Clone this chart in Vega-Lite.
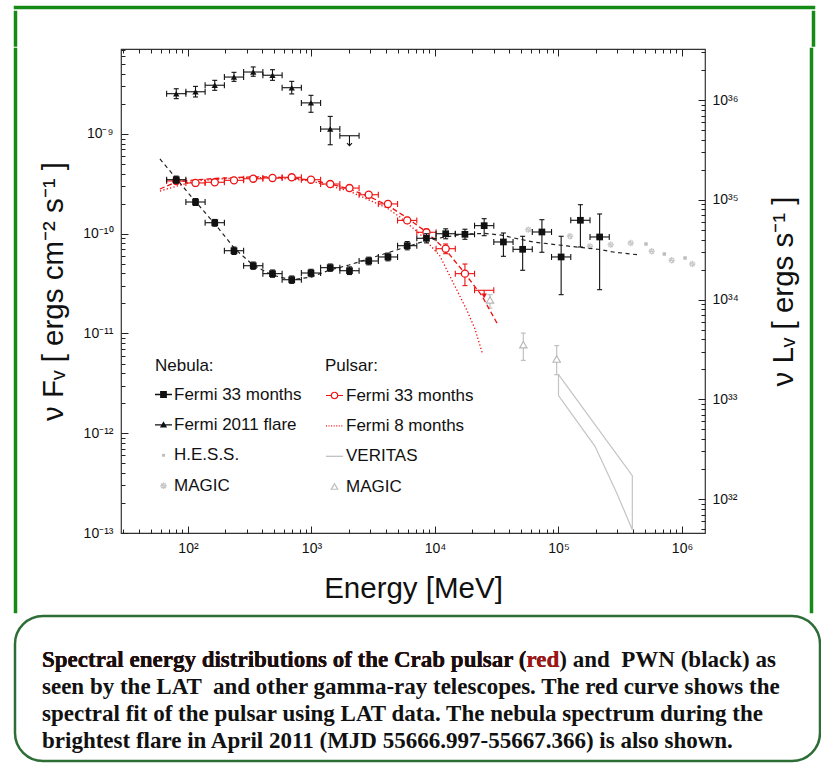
{
  "$schema": "https://vega.github.io/schema/vega-lite/v6.json",
  "padding": {"left": 13, "top": 5, "right": 0, "bottom": 0},
  "background": "white",
  "config": {"font": "Liberation Sans", "point": {"opacity": 1}, "view": {"stroke": null}},
  "datasets": {
    "neb": [
      {"E":80.4,"Elo":67.2,"Ehi":96.2,"F":3.48e-10,"Flo":3.2e-10,"Fhi":3.78e-10},
      {"E":115.1,"Elo":96.2,"Ehi":137.7,"F":2.08e-10,"Flo":1.92e-10,"Fhi":2.25e-10},
      {"E":164.8,"Elo":137.7,"Ehi":197.2,"F":1.29e-10,"Flo":1.19e-10,"Fhi":1.39e-10},
      {"E":235.9,"Elo":197.2,"Ehi":282.3,"F":6.76e-11,"Flo":6.2e-11,"Fhi":7.35e-11},
      {"E":337.8,"Elo":282.3,"Ehi":404.1,"F":4.78e-11,"Flo":4.4e-11,"Fhi":5.2e-11},
      {"E":483.5,"Elo":404.1,"Ehi":578.5,"F":3.98e-11,"Flo":3.66e-11,"Fhi":4.33e-11},
      {"E":692.2,"Elo":578.5,"Ehi":828.2,"F":3.46e-11,"Flo":3.18e-11,"Fhi":3.77e-11},
      {"E":990.8,"Elo":828.2,"Ehi":1185.6,"F":4.04e-11,"Flo":3.71e-11,"Fhi":4.4e-11},
      {"E":1418.5,"Elo":1185.6,"Ehi":1697,"F":4.57e-11,"Flo":4.2e-11,"Fhi":4.97e-11},
      {"E":2031,"Elo":1697,"Ehi":2429,"F":4.26e-11,"Flo":3.9e-11,"Fhi":4.65e-11},
      {"E":2907,"Elo":2429,"Ehi":3478,"F":5.33e-11,"Flo":4.88e-11,"Fhi":5.82e-11},
      {"E":4162,"Elo":3478,"Ehi":4978,"F":5.85e-11,"Flo":5.35e-11,"Fhi":6.4e-11},
      {"E":5957,"Elo":4978,"Ehi":7127,"F":7.59e-11,"Flo":6.9e-11,"Fhi":8.35e-11},
      {"E":8528,"Elo":7127,"Ehi":10202,"F":9.0e-11,"Flo":8.1e-11,"Fhi":1.0e-10},
      {"E":12208,"Elo":10202,"Ehi":14605,"F":1.0e-10,"Flo":8.9e-11,"Fhi":1.12e-10},
      {"E":17476,"Elo":14605,"Ehi":20909,"F":9.87e-11,"Flo":8.8e-11,"Fhi":1.11e-10},
      {"E":25018,"Elo":20909,"Ehi":29931,"F":1.205e-10,"Flo":9.56e-11,"Fhi":1.416e-10},
      {"E":35813,"Elo":29931,"Ehi":42848,"F":8.27e-11,"Flo":5.94e-11,"Fhi":1.017e-10},
      {"E":51268,"Elo":42848,"Ehi":61340,"F":6.98e-11,"Flo":4.3e-11,"Fhi":9.43e-11},
      {"E":73393,"Elo":61340,"Ehi":87814,"F":1.041e-10,"Flo":6.52e-11,"Fhi":1.383e-10},
      {"E":105050,"Elo":87814,"Ehi":125710,"F":5.85e-11,"Flo":2.45e-11,"Fhi":9.43e-11},
      {"E":150420,"Elo":125710,"Ehi":179960,"F":1.364e-10,"Flo":7.36e-11,"Fhi":1.955e-10},
      {"E":215280,"Elo":179960,"Ehi":257620,"F":9.28e-11,"Flo":2.75e-11,"Fhi":1.578e-10}
    ],
    "psr": [
      {"E":80.4,"Elo":67.2,"Ehi":96.2,"F":3.38e-10,"Flo":3.2e-10,"Fhi":3.56e-10},
      {"E":115.1,"Elo":96.2,"Ehi":137.7,"F":3.23e-10,"Flo":3.07e-10,"Fhi":3.4e-10},
      {"E":164.8,"Elo":137.7,"Ehi":197.2,"F":3.28e-10,"Flo":3.12e-10,"Fhi":3.45e-10},
      {"E":235.9,"Elo":197.2,"Ehi":282.3,"F":3.43e-10,"Flo":3.26e-10,"Fhi":3.6e-10},
      {"E":337.8,"Elo":282.3,"Ehi":404.1,"F":3.56e-10,"Flo":3.38e-10,"Fhi":3.74e-10},
      {"E":483.5,"Elo":404.1,"Ehi":578.5,"F":3.62e-10,"Flo":3.44e-10,"Fhi":3.8e-10},
      {"E":692.2,"Elo":578.5,"Ehi":828.2,"F":3.68e-10,"Flo":3.5e-10,"Fhi":3.87e-10},
      {"E":990.8,"Elo":828.2,"Ehi":1185.6,"F":3.48e-10,"Flo":3.3e-10,"Fhi":3.66e-10},
      {"E":1418.5,"Elo":1185.6,"Ehi":1697,"F":3.15e-10,"Flo":2.98e-10,"Fhi":3.32e-10},
      {"E":2031,"Elo":1697,"Ehi":2429,"F":2.87e-10,"Flo":2.72e-10,"Fhi":3.03e-10},
      {"E":2907,"Elo":2429,"Ehi":3478,"F":2.46e-10,"Flo":2.32e-10,"Fhi":2.6e-10},
      {"E":4162,"Elo":3478,"Ehi":4978,"F":1.99e-10,"Flo":1.87e-10,"Fhi":2.12e-10},
      {"E":5957,"Elo":4978,"Ehi":7127,"F":1.36e-10,"Flo":1.27e-10,"Fhi":1.46e-10},
      {"E":8528,"Elo":7127,"Ehi":10202,"F":1.034e-10,"Flo":9.6e-11,"Fhi":1.11e-10},
      {"E":12208,"Elo":10202,"Ehi":14605,"F":7.08e-11,"Flo":6.31e-11,"Fhi":7.89e-11},
      {"E":17476,"Elo":14605,"Ehi":20909,"F":3.98e-11,"Flo":3.02e-11,"Fhi":4.97e-11}
    ],
    "psrUL": [{"E":25018,"Elo":20909,"Ehi":29931,"F":2.71e-11,"Fend":2.38e-11}],
    "flare": [
      {"E":80.4,"Elo":67.2,"Ehi":96.2,"F":2.535e-9,"Flo":2.26e-9,"Fhi":2.84e-9},
      {"E":115.1,"Elo":96.2,"Ehi":137.7,"F":2.65e-9,"Flo":2.35e-9,"Fhi":3.0e-9},
      {"E":164.8,"Elo":137.7,"Ehi":197.2,"F":3.08e-9,"Flo":2.74e-9,"Fhi":3.45e-9},
      {"E":235.9,"Elo":197.2,"Ehi":282.3,"F":3.72e-9,"Flo":3.37e-9,"Fhi":4.15e-9},
      {"E":337.8,"Elo":282.3,"Ehi":404.1,"F":4.18e-9,"Flo":3.79e-9,"Fhi":4.7e-9},
      {"E":483.5,"Elo":404.1,"Ehi":578.5,"F":3.88e-9,"Flo":3.45e-9,"Fhi":4.41e-9},
      {"E":692.2,"Elo":578.5,"Ehi":828.2,"F":2.91e-9,"Flo":2.52e-9,"Fhi":3.37e-9},
      {"E":990.8,"Elo":828.2,"Ehi":1185.6,"F":2.05e-9,"Flo":1.65e-9,"Fhi":2.44e-9},
      {"E":1418.5,"Elo":1185.6,"Ehi":1697,"F":1.12e-9,"Flo":7.8e-10,"Fhi":1.5e-9}
    ],
    "flareUL": [{"E":2031,"Elo":1697,"Ehi":2429,"F":9.6e-10,"Fend":7.63e-10}],
    "psrFit33": [
      {"E":59.3,"F":2.81e-10},{"E":79.9,"F":3.3e-10},{"E":113.9,"F":3.46e-10},{"E":165.5,"F":3.58e-10},
      {"E":235.8,"F":3.66e-10},{"E":336,"F":3.71e-10},{"E":478.8,"F":3.71e-10},{"E":695,"F":3.62e-10},
      {"E":990.8,"F":3.46e-10},{"E":1412,"F":3.15e-10},{"E":2012,"F":2.81e-10},{"E":2868,"F":2.39e-10},
      {"E":4087,"F":1.94e-10},{"E":5825,"F":1.47e-10},{"E":8299,"F":1.066e-10},{"E":12050,"F":7.03e-11},
      {"E":16850,"F":4.23e-11},{"E":24020,"F":2.38e-11},{"E":32370,"F":1.217e-11}
    ],
    "psrFit8": [
      {"E":59.3,"F":2.68e-10},{"E":113.9,"F":3.38e-10},{"E":235.8,"F":3.62e-10},{"E":478.8,"F":3.66e-10},
      {"E":990.8,"F":3.38e-10},{"E":2012,"F":2.68e-10},{"E":4087,"F":1.81e-10},{"E":5207,"F":1.47e-10},
      {"E":7557,"F":9.94e-11},{"E":10980,"F":5.98e-11},{"E":14060,"F":3.21e-11},{"E":18060,"F":1.73e-11},
      {"E":21080,"F":1.11e-11},{"E":24150,"F":6.37e-12}
    ],
    "nebFit": [
      {"E":59.3,"F":5.62e-10},{"E":81.0,"F":3.54e-10},{"E":113.9,"F":2.13e-10},{"E":165.5,"F":1.252e-10},
      {"E":240.2,"F":7.03e-11},{"E":336,"F":4.86e-11},{"E":478.8,"F":3.86e-11},{"E":691.2,"F":3.44e-11},
      {"E":990.8,"F":3.68e-11},{"E":1412,"F":4.33e-11},{"E":2012,"F":4.86e-11},{"E":2868,"F":5.58e-11},
      {"E":4087,"F":6.41e-11},{"E":5825,"F":7.36e-11},{"E":8299,"F":8.46e-11},{"E":12050,"F":9.28e-11},
      {"E":17500,"F":9.94e-11},{"E":25410,"F":1.006e-10},{"E":33600,"F":9.72e-11},{"E":62170,"F":8.27e-11},
      {"E":117200,"F":7.54e-11},{"E":216800,"F":6.95e-11},{"E":276300,"F":6.56e-11},{"E":457000,"F":6.12e-11}
    ],
    "hess": [{"E":511000,"F":7.89e-11},{"E":719000,"F":6.26e-11},{"E":1058000,"F":5.71e-11}],
    "magicNeb": [
      {"E":56940,"F":1.098e-10},{"E":123900,"F":9.43e-11},{"E":180000,"F":7.48e-11},{"E":264600,"F":7.77e-11},
      {"E":384200,"F":8.08e-11},{"E":568400,"F":6.67e-11},{"E":825300,"F":5.42e-11},{"E":1211500,"F":4.97e-11}
    ],
    "magicPsr": [
      {"E":27880,"F":2.17e-11,"Flo":1.8e-11,"Fhi":2.45e-11},
      {"E":51900,"F":7.72e-12,"Flo":5.38e-12,"Fhi":1.01e-11},
      {"E":96700,"F":5.55e-12,"Flo":3.86e-12,"Fhi":7.55e-12}
    ],
    "veritas": [
      {"ord":1,"E":100000,"F":3.86e-12},{"ord":2,"E":396000,"F":3.75e-13},{"ord":3,"E":396000,"F":1.08e-13},
      {"ord":4,"E":296000,"F":2.52e-13},{"ord":5,"E":197500,"F":7.4e-13},{"ord":6,"E":100000,"F":2.38e-12},
      {"ord":7,"E":100000,"F":3.86e-12}
    ]
  },
  "spacing": 0,
  "vconcat": [
    {"width": 799, "height": 1, "view": {"stroke": "#168a16", "strokeWidth": 2.5, "fill": "#168a16"}, "data": {"values": []}, "mark": "point", "encoding": {}},
    {
      "spacing": 793,
      "hconcat": [
        {"width": 1, "height": 33.5, "view": {"stroke": "#168a16", "strokeWidth": 2.5, "fill": "#168a16"}, "data": {"values": []}, "mark": "point", "encoding": {}},
        {"width": 1, "height": 33.5, "view": {"stroke": "#168a16", "strokeWidth": 2.5, "fill": "#168a16"}, "data": {"values": []}, "mark": "point", "encoding": {}}
      ]
    },
    {
      "spacing": 10,
      "hconcat": [
        {
          "spacing": 20,
          "hconcat": [
            {"width": 1, "height": 563, "view": {"stroke": "#168a16", "strokeWidth": 2.5, "fill": "#168a16"}, "data": {"values": []}, "mark": "point", "encoding": {}},
            {
              "width": 584, "height": 484,
              "view": {"stroke": "#333", "strokeWidth": 1.2},
              "resolve": {"scale": {"y": "independent", "color": "independent", "shape": "independent"}, "axis": {"x": "independent"}},
              "layer": [
                {"data": {"values": []}, "mark": "point",
                 "encoding": {
                   "x": {"field": "E", "type": "quantitative", "scale": {"type":"log","domain":[28.7,1535000],"nice":false},
                         "axis": {"orient": "bottom", "values": [30,40,50,60,70,80,90,100,200,300,400,500,600,700,800,900,1000,2000,3000,4000,5000,6000,7000,8000,9000,10000,20000,30000,40000,50000,60000,70000,80000,90000,100000,200000,300000,400000,500000,600000,700000,800000,900000,1000000],
                                  "labelExpr": "abs(log(datum.value)/LN10-round(log(datum.value)/LN10))<0.001 ? '10'+['⁰','¹','²','³','⁴','⁵','⁶','⁷'][round(log(datum.value)/LN10)] : ''",
                                  "tickSize": {"condition": {"test": "abs(log(datum.value)/LN10-round(log(datum.value)/LN10))<0.001", "value": -7}, "value": -4},
                                  "tickColor": "#222", "tickWidth": 1, "domain": false, "grid": false,
                                  "labelFont": "Liberation Sans", "labelFontSize": 14, "labelColor": "#111", "labelPadding": 15,
                                  "labelOverlap": false, "labelBound": false, "labelFlush": false,
                                  "title": "Energy [MeV]", "titleFont": "Liberation Sans", "titleFontSize": 29.5, "titleFontWeight": "normal", "titleColor": "#111", "titlePadding": 16}},
                   "y": {"field": "F", "type": "quantitative", "scale": {"type":"log","domain":[1e-13,7.11e-9],"nice":false},
                         "axis": {"orient": "left", "values": [1e-13,2e-13,3e-13,4e-13,5e-13,6e-13,7e-13,8e-13,9e-13,1e-12,2e-12,3e-12,4e-12,5e-12,6e-12,7e-12,8e-12,9e-12,1e-11,2e-11,3e-11,4e-11,5e-11,6e-11,7e-11,8e-11,9e-11,1e-10,2e-10,3e-10,4e-10,5e-10,6e-10,7e-10,8e-10,9e-10,1e-9,2e-9,3e-9,4e-9,5e-9,6e-9,7e-9],
                                  "labelExpr": "abs(log(datum.value)/LN10-round(log(datum.value)/LN10))<0.001 ? '10⁻'+['⁰','¹','²','³','⁴','⁵','⁶','⁷','⁸','⁹','¹⁰','¹¹','¹²','¹³','¹⁴'][-round(log(datum.value)/LN10)] : ''",
                                  "tickSize": {"condition": {"test": "abs(log(datum.value)/LN10-round(log(datum.value)/LN10))<0.001", "value": -7}, "value": -4},
                                  "tickColor": "#222", "tickWidth": 1, "domain": false, "grid": false,
                                  "labelFont": "Liberation Sans", "labelFontSize": {"condition": {"test": "abs(log(datum.value)/LN10-round(log(datum.value)/LN10))<0.001", "value": 14}, "value": 0},
                                  "labelColor": "#111", "labelPadding": 15,
                                  "labelOverlap": false, "labelBound": false, "labelFlush": false,
                                  "title": "ν Fᵥ [ ergs cm⁻² s⁻¹ ]", "titleFont": "Liberation Sans", "titleFontSize": 29.5, "titleFontWeight": "normal", "titleColor": "#111", "titlePadding": 14}}
                 }},
                {"data": {"values": []}, "mark": "point",
                 "encoding": {
                   "x": {"field": "E", "type": "quantitative", "scale": {"type":"log","domain":[28.7,1535000],"nice":false},
                         "axis": {"orient": "top", "values": [30,40,50,60,70,80,90,100,200,300,400,500,600,700,800,900,1000,2000,3000,4000,5000,6000,7000,8000,9000,10000,20000,30000,40000,50000,60000,70000,80000,90000,100000,200000,300000,400000,500000,600000,700000,800000,900000,1000000],
                                  "labels": false, "tickSize": {"condition": {"test": "abs(log(datum.value)/LN10-round(log(datum.value)/LN10))<0.001", "value": -7}, "value": -4},
                                  "tickColor": "#222", "tickWidth": 1, "domain": false, "grid": false, "title": null, "minExtent": 0, "maxExtent": 0}},
                   "y": {"field": "L", "type": "quantitative", "scale": {"type":"log","domain":[4.57e31,3.25e36],"nice":false},
                         "axis": {"orient": "right", "values": [5e31,6e31,7e31,8e31,9e31,1e32,2e32,3e32,4e32,5e32,6e32,7e32,8e32,9e32,1e33,2e33,3e33,4e33,5e33,6e33,7e33,8e33,9e33,1e34,2e34,3e34,4e34,5e34,6e34,7e34,8e34,9e34,1e35,2e35,3e35,4e35,5e35,6e35,7e35,8e35,9e35,1e36,2e36,3e36],
                                  "labelExpr": "abs(log(datum.value)/LN10-round(log(datum.value)/LN10))<0.001 ? '10'+['³⁰','³¹','³²','³³','³⁴','³⁵','³⁶','³⁷'][round(log(datum.value)/LN10)-30] : ''",
                                  "tickSize": {"condition": {"test": "abs(log(datum.value)/LN10-round(log(datum.value)/LN10))<0.001", "value": -7}, "value": -4},
                                  "tickColor": "#222", "tickWidth": 1, "domain": false, "grid": false,
                                  "labelFont": "Liberation Sans", "labelFontSize": {"condition": {"test": "abs(log(datum.value)/LN10-round(log(datum.value)/LN10))<0.001", "value": 14}, "value": 0},
                                  "labelColor": "#111", "labelPadding": 14,
                                  "labelOverlap": false, "labelBound": false, "labelFlush": false,
                                  "title": "ν Lᵥ [ ergs s⁻¹ ]", "titleAngle": 270, "titleBaseline": "top", "titleFont": "Liberation Sans", "titleFontSize": 29.5, "titleFontWeight": "normal", "titleColor": "#111", "titlePadding": 31}}
                 }},
                {"data": {"name": "veritas"}, "mark": {"type": "line", "color": "#c4c4c4", "strokeWidth": 1.2},
                 "encoding": {"x": {"field": "E", "type": "quantitative", "scale": {"type":"log","domain":[28.7,1535000],"nice":false}, "axis": null},
                              "y": {"field": "F", "type": "quantitative", "scale": {"type":"log","domain":[1e-13,7.11e-9],"nice":false}, "axis": null},
                              "order": {"field": "ord", "type": "quantitative"}}},
                {"data": {"name": "magicPsr"}, "mark": {"type": "rule", "color": "#bbbbbb", "strokeWidth": 1.1},
                 "encoding": {"x": {"field": "E", "type": "quantitative", "scale": {"type":"log","domain":[28.7,1535000],"nice":false}, "axis": null},
                              "y": {"field": "Flo", "type": "quantitative", "scale": {"type":"log","domain":[1e-13,7.11e-9],"nice":false}, "axis": null},
                              "y2": {"field": "Fhi"}}},
                {"data": {"name": "magicPsr"}, "mark": {"type": "point", "shape": "M-1,0L1,0", "size": 25, "filled": false, "stroke": "#bbbbbb", "strokeWidth": 1.1},
                 "encoding": {"x": {"field": "E", "type": "quantitative", "scale": {"type":"log","domain":[28.7,1535000],"nice":false}, "axis": null},
                              "y": {"field": "Flo", "type": "quantitative", "scale": {"type":"log","domain":[1e-13,7.11e-9],"nice":false}, "axis": null}}},
                {"data": {"name": "magicPsr"}, "mark": {"type": "point", "shape": "M-1,0L1,0", "size": 25, "filled": false, "stroke": "#bbbbbb", "strokeWidth": 1.1},
                 "encoding": {"x": {"field": "E", "type": "quantitative", "scale": {"type":"log","domain":[28.7,1535000],"nice":false}, "axis": null},
                              "y": {"field": "Fhi", "type": "quantitative", "scale": {"type":"log","domain":[1e-13,7.11e-9],"nice":false}, "axis": null}}},
                {"data": {"name": "magicPsr"}, "mark": {"type": "point", "shape": "triangle-up", "size": 55, "filled": false, "fill": "white", "stroke": "#b5b5b5", "strokeWidth": 1.1},
                 "encoding": {"x": {"field": "E", "type": "quantitative", "scale": {"type":"log","domain":[28.7,1535000],"nice":false}, "axis": null},
                              "y": {"field": "F", "type": "quantitative", "scale": {"type":"log","domain":[1e-13,7.11e-9],"nice":false}, "axis": null}}},
                {"data": {"name": "hess"}, "mark": {"type": "point", "shape": "square", "size": 12, "filled": true, "color": "#bdbdbd"},
                 "encoding": {"x": {"field": "E", "type": "quantitative", "scale": {"type":"log","domain":[28.7,1535000],"nice":false}, "axis": null},
                              "y": {"field": "F", "type": "quantitative", "scale": {"type":"log","domain":[1e-13,7.11e-9],"nice":false}, "axis": null}}},
                {"data": {"name": "magicNeb"}, "mark": {"type": "point", "shape": "M-1,-0.22H1V0.22H-1Z M-0.22,-1H0.22V1H-0.22Z M-0.87,-0.53L-0.53,-0.87L0.87,0.53L0.53,0.87Z M-0.87,0.53L-0.53,0.87L0.87,-0.53L0.53,-0.87Z", "size": 40, "filled": true, "color": "#c8c8c8"},
                 "encoding": {"x": {"field": "E", "type": "quantitative", "scale": {"type":"log","domain":[28.7,1535000],"nice":false}, "axis": null},
                              "y": {"field": "F", "type": "quantitative", "scale": {"type":"log","domain":[1e-13,7.11e-9],"nice":false}, "axis": null}}},
                {"data": {"name": "psrFit8"}, "mark": {"type": "line", "color": "#ee1111", "strokeWidth": 1.3, "strokeDash": [1.3, 2.2]},
                 "encoding": {"x": {"field": "E", "type": "quantitative", "scale": {"type":"log","domain":[28.7,1535000],"nice":false}, "axis": null},
                              "y": {"field": "F", "type": "quantitative", "scale": {"type":"log","domain":[1e-13,7.11e-9],"nice":false}, "axis": null}}},
                {"data": {"name": "psrFit33"}, "mark": {"type": "line", "color": "#ee1111", "strokeWidth": 1.3, "strokeDash": [5, 3]},
                 "encoding": {"x": {"field": "E", "type": "quantitative", "scale": {"type":"log","domain":[28.7,1535000],"nice":false}, "axis": null},
                              "y": {"field": "F", "type": "quantitative", "scale": {"type":"log","domain":[1e-13,7.11e-9],"nice":false}, "axis": null}}},
                {"data": {"name": "nebFit"}, "mark": {"type": "line", "color": "#222", "strokeWidth": 1.2, "strokeDash": [4, 3.5]},
                 "encoding": {"x": {"field": "E", "type": "quantitative", "scale": {"type":"log","domain":[28.7,1535000],"nice":false}, "axis": null},
                              "y": {"field": "F", "type": "quantitative", "scale": {"type":"log","domain":[1e-13,7.11e-9],"nice":false}, "axis": null}}},

                {"data": {"name": "psr"}, "mark": {"type": "rule", "color": "#ee1111", "strokeWidth": 1.1},
                 "encoding": {"x": {"field": "Elo", "type": "quantitative", "scale": {"type":"log","domain":[28.7,1535000],"nice":false}, "axis": null}, "x2": {"field": "Ehi"},
                              "y": {"field": "F", "type": "quantitative", "scale": {"type":"log","domain":[1e-13,7.11e-9],"nice":false}, "axis": null}}},
                {"data": {"name": "psr"}, "mark": {"type": "rule", "color": "#ee1111", "strokeWidth": 1.1},
                 "encoding": {"x": {"field": "E", "type": "quantitative", "scale": {"type":"log","domain":[28.7,1535000],"nice":false}, "axis": null},
                              "y": {"field": "Flo", "type": "quantitative", "scale": {"type":"log","domain":[1e-13,7.11e-9],"nice":false}, "axis": null}, "y2": {"field": "Fhi"}}},
                {"data": {"name": "psr"}, "mark": {"type": "point", "shape": "M0,-1L0,1", "size": 36, "filled": false, "stroke": "#ee1111", "strokeWidth": 1.1},
                 "encoding": {"x": {"field": "Elo", "type": "quantitative", "scale": {"type":"log","domain":[28.7,1535000],"nice":false}, "axis": null},
                              "y": {"field": "F", "type": "quantitative", "scale": {"type":"log","domain":[1e-13,7.11e-9],"nice":false}, "axis": null}}},
                {"data": {"name": "psr"}, "mark": {"type": "point", "shape": "M0,-1L0,1", "size": 36, "filled": false, "stroke": "#ee1111", "strokeWidth": 1.1},
                 "encoding": {"x": {"field": "Ehi", "type": "quantitative", "scale": {"type":"log","domain":[28.7,1535000],"nice":false}, "axis": null},
                              "y": {"field": "F", "type": "quantitative", "scale": {"type":"log","domain":[1e-13,7.11e-9],"nice":false}, "axis": null}}},
                {"data": {"name": "psr"}, "mark": {"type": "point", "shape": "M-1,0L1,0", "size": 25, "filled": false, "stroke": "#ee1111", "strokeWidth": 1.1},
                 "encoding": {"x": {"field": "E", "type": "quantitative", "scale": {"type":"log","domain":[28.7,1535000],"nice":false}, "axis": null},
                              "y": {"field": "Flo", "type": "quantitative", "scale": {"type":"log","domain":[1e-13,7.11e-9],"nice":false}, "axis": null}}},
                {"data": {"name": "psr"}, "mark": {"type": "point", "shape": "M-1,0L1,0", "size": 25, "filled": false, "stroke": "#ee1111", "strokeWidth": 1.1},
                 "encoding": {"x": {"field": "E", "type": "quantitative", "scale": {"type":"log","domain":[28.7,1535000],"nice":false}, "axis": null},
                              "y": {"field": "Fhi", "type": "quantitative", "scale": {"type":"log","domain":[1e-13,7.11e-9],"nice":false}, "axis": null}}},
                {"data": {"name": "psr"}, "mark": {"type": "point", "shape": "circle", "size": 50, "filled": false, "fill": "white", "stroke": "#ee1111", "strokeWidth": 1.3},
                 "encoding": {"x": {"field": "E", "type": "quantitative", "scale": {"type":"log","domain":[28.7,1535000],"nice":false}, "axis": null},
                              "y": {"field": "F", "type": "quantitative", "scale": {"type":"log","domain":[1e-13,7.11e-9],"nice":false}, "axis": null}}},

                {"data": {"name": "psrUL"}, "mark": {"type": "rule", "color": "#ee1111", "strokeWidth": 1.1},
                 "encoding": {"x": {"field": "Elo", "type": "quantitative", "scale": {"type":"log","domain":[28.7,1535000],"nice":false}, "axis": null}, "x2": {"field": "Ehi"},
                              "y": {"field": "F", "type": "quantitative", "scale": {"type":"log","domain":[1e-13,7.11e-9],"nice":false}, "axis": null}}},
                {"data": {"name": "psrUL"}, "mark": {"type": "point", "shape": "M0,-1L0,1", "size": 36, "filled": false, "stroke": "#ee1111", "strokeWidth": 1.1},
                 "encoding": {"x": {"field": "Elo", "type": "quantitative", "scale": {"type":"log","domain":[28.7,1535000],"nice":false}, "axis": null},
                              "y": {"field": "F", "type": "quantitative", "scale": {"type":"log","domain":[1e-13,7.11e-9],"nice":false}, "axis": null}}},
                {"data": {"name": "psrUL"}, "mark": {"type": "point", "shape": "M0,-1L0,1", "size": 36, "filled": false, "stroke": "#ee1111", "strokeWidth": 1.1},
                 "encoding": {"x": {"field": "Ehi", "type": "quantitative", "scale": {"type":"log","domain":[28.7,1535000],"nice":false}, "axis": null},
                              "y": {"field": "F", "type": "quantitative", "scale": {"type":"log","domain":[1e-13,7.11e-9],"nice":false}, "axis": null}}},
                {"data": {"name": "psrUL"}, "mark": {"type": "rule", "color": "#ee1111", "strokeWidth": 1.1},
                 "encoding": {"x": {"field": "E", "type": "quantitative", "scale": {"type":"log","domain":[28.7,1535000],"nice":false}, "axis": null},
                              "y": {"field": "F", "type": "quantitative", "scale": {"type":"log","domain":[1e-13,7.11e-9],"nice":false}, "axis": null}, "y2": {"field": "Fend"}}},
                {"data": {"name": "psrUL"}, "mark": {"type": "point", "shape": "triangle-down", "size": 30, "filled": true, "color": "#ee1111"},
                 "encoding": {"x": {"field": "E", "type": "quantitative", "scale": {"type":"log","domain":[28.7,1535000],"nice":false}, "axis": null},
                              "y": {"field": "Fend", "type": "quantitative", "scale": {"type":"log","domain":[1e-13,7.11e-9],"nice":false}, "axis": null}}},

                {"data": {"name": "neb"}, "mark": {"type": "rule", "color": "#111", "strokeWidth": 1.1},
                 "encoding": {"x": {"field": "Elo", "type": "quantitative", "scale": {"type":"log","domain":[28.7,1535000],"nice":false}, "axis": null}, "x2": {"field": "Ehi"},
                              "y": {"field": "F", "type": "quantitative", "scale": {"type":"log","domain":[1e-13,7.11e-9],"nice":false}, "axis": null}}},
                {"data": {"name": "neb"}, "mark": {"type": "rule", "color": "#111", "strokeWidth": 1.1},
                 "encoding": {"x": {"field": "E", "type": "quantitative", "scale": {"type":"log","domain":[28.7,1535000],"nice":false}, "axis": null},
                              "y": {"field": "Flo", "type": "quantitative", "scale": {"type":"log","domain":[1e-13,7.11e-9],"nice":false}, "axis": null}, "y2": {"field": "Fhi"}}},
                {"data": {"name": "neb"}, "mark": {"type": "point", "shape": "M0,-1L0,1", "size": 36, "filled": false, "stroke": "#111", "strokeWidth": 1.1},
                 "encoding": {"x": {"field": "Elo", "type": "quantitative", "scale": {"type":"log","domain":[28.7,1535000],"nice":false}, "axis": null},
                              "y": {"field": "F", "type": "quantitative", "scale": {"type":"log","domain":[1e-13,7.11e-9],"nice":false}, "axis": null}}},
                {"data": {"name": "neb"}, "mark": {"type": "point", "shape": "M0,-1L0,1", "size": 36, "filled": false, "stroke": "#111", "strokeWidth": 1.1},
                 "encoding": {"x": {"field": "Ehi", "type": "quantitative", "scale": {"type":"log","domain":[28.7,1535000],"nice":false}, "axis": null},
                              "y": {"field": "F", "type": "quantitative", "scale": {"type":"log","domain":[1e-13,7.11e-9],"nice":false}, "axis": null}}},
                {"data": {"name": "neb"}, "mark": {"type": "point", "shape": "M-1,0L1,0", "size": 25, "filled": false, "stroke": "#111", "strokeWidth": 1.1},
                 "encoding": {"x": {"field": "E", "type": "quantitative", "scale": {"type":"log","domain":[28.7,1535000],"nice":false}, "axis": null},
                              "y": {"field": "Flo", "type": "quantitative", "scale": {"type":"log","domain":[1e-13,7.11e-9],"nice":false}, "axis": null}}},
                {"data": {"name": "neb"}, "mark": {"type": "point", "shape": "M-1,0L1,0", "size": 25, "filled": false, "stroke": "#111", "strokeWidth": 1.1},
                 "encoding": {"x": {"field": "E", "type": "quantitative", "scale": {"type":"log","domain":[28.7,1535000],"nice":false}, "axis": null},
                              "y": {"field": "Fhi", "type": "quantitative", "scale": {"type":"log","domain":[1e-13,7.11e-9],"nice":false}, "axis": null}}},
                {"data": {"name": "neb"}, "mark": {"type": "point", "shape": "square", "size": 45, "filled": true, "color": "#111"},
                 "encoding": {"x": {"field": "E", "type": "quantitative", "scale": {"type":"log","domain":[28.7,1535000],"nice":false}, "axis": null},
                              "y": {"field": "F", "type": "quantitative", "scale": {"type":"log","domain":[1e-13,7.11e-9],"nice":false}, "axis": null}}},

                {"data": {"name": "flare"}, "mark": {"type": "rule", "color": "#111", "strokeWidth": 1.1},
                 "encoding": {"x": {"field": "Elo", "type": "quantitative", "scale": {"type":"log","domain":[28.7,1535000],"nice":false}, "axis": null}, "x2": {"field": "Ehi"},
                              "y": {"field": "F", "type": "quantitative", "scale": {"type":"log","domain":[1e-13,7.11e-9],"nice":false}, "axis": null}}},
                {"data": {"name": "flare"}, "mark": {"type": "rule", "color": "#111", "strokeWidth": 1.1},
                 "encoding": {"x": {"field": "E", "type": "quantitative", "scale": {"type":"log","domain":[28.7,1535000],"nice":false}, "axis": null},
                              "y": {"field": "Flo", "type": "quantitative", "scale": {"type":"log","domain":[1e-13,7.11e-9],"nice":false}, "axis": null}, "y2": {"field": "Fhi"}}},
                {"data": {"name": "flare"}, "mark": {"type": "point", "shape": "M0,-1L0,1", "size": 36, "filled": false, "stroke": "#111", "strokeWidth": 1.1},
                 "encoding": {"x": {"field": "Elo", "type": "quantitative", "scale": {"type":"log","domain":[28.7,1535000],"nice":false}, "axis": null},
                              "y": {"field": "F", "type": "quantitative", "scale": {"type":"log","domain":[1e-13,7.11e-9],"nice":false}, "axis": null}}},
                {"data": {"name": "flare"}, "mark": {"type": "point", "shape": "M0,-1L0,1", "size": 36, "filled": false, "stroke": "#111", "strokeWidth": 1.1},
                 "encoding": {"x": {"field": "Ehi", "type": "quantitative", "scale": {"type":"log","domain":[28.7,1535000],"nice":false}, "axis": null},
                              "y": {"field": "F", "type": "quantitative", "scale": {"type":"log","domain":[1e-13,7.11e-9],"nice":false}, "axis": null}}},
                {"data": {"name": "flare"}, "mark": {"type": "point", "shape": "M-1,0L1,0", "size": 25, "filled": false, "stroke": "#111", "strokeWidth": 1.1},
                 "encoding": {"x": {"field": "E", "type": "quantitative", "scale": {"type":"log","domain":[28.7,1535000],"nice":false}, "axis": null},
                              "y": {"field": "Flo", "type": "quantitative", "scale": {"type":"log","domain":[1e-13,7.11e-9],"nice":false}, "axis": null}}},
                {"data": {"name": "flare"}, "mark": {"type": "point", "shape": "M-1,0L1,0", "size": 25, "filled": false, "stroke": "#111", "strokeWidth": 1.1},
                 "encoding": {"x": {"field": "E", "type": "quantitative", "scale": {"type":"log","domain":[28.7,1535000],"nice":false}, "axis": null},
                              "y": {"field": "Fhi", "type": "quantitative", "scale": {"type":"log","domain":[1e-13,7.11e-9],"nice":false}, "axis": null}}},
                {"data": {"name": "flare"}, "mark": {"type": "point", "shape": "triangle-up", "size": 40, "filled": true, "color": "#111"},
                 "encoding": {"x": {"field": "E", "type": "quantitative", "scale": {"type":"log","domain":[28.7,1535000],"nice":false}, "axis": null},
                              "y": {"field": "F", "type": "quantitative", "scale": {"type":"log","domain":[1e-13,7.11e-9],"nice":false}, "axis": null}}},

                {"data": {"name": "flareUL"}, "mark": {"type": "rule", "color": "#111", "strokeWidth": 1.1},
                 "encoding": {"x": {"field": "Elo", "type": "quantitative", "scale": {"type":"log","domain":[28.7,1535000],"nice":false}, "axis": null}, "x2": {"field": "Ehi"},
                              "y": {"field": "F", "type": "quantitative", "scale": {"type":"log","domain":[1e-13,7.11e-9],"nice":false}, "axis": null}}},
                {"data": {"name": "flareUL"}, "mark": {"type": "point", "shape": "M0,-1L0,1", "size": 36, "filled": false, "stroke": "#111", "strokeWidth": 1.1},
                 "encoding": {"x": {"field": "Elo", "type": "quantitative", "scale": {"type":"log","domain":[28.7,1535000],"nice":false}, "axis": null},
                              "y": {"field": "F", "type": "quantitative", "scale": {"type":"log","domain":[1e-13,7.11e-9],"nice":false}, "axis": null}}},
                {"data": {"name": "flareUL"}, "mark": {"type": "point", "shape": "M0,-1L0,1", "size": 36, "filled": false, "stroke": "#111", "strokeWidth": 1.1},
                 "encoding": {"x": {"field": "Ehi", "type": "quantitative", "scale": {"type":"log","domain":[28.7,1535000],"nice":false}, "axis": null},
                              "y": {"field": "F", "type": "quantitative", "scale": {"type":"log","domain":[1e-13,7.11e-9],"nice":false}, "axis": null}}},
                {"data": {"name": "flareUL"}, "mark": {"type": "rule", "color": "#111", "strokeWidth": 1.1},
                 "encoding": {"x": {"field": "E", "type": "quantitative", "scale": {"type":"log","domain":[28.7,1535000],"nice":false}, "axis": null},
                              "y": {"field": "F", "type": "quantitative", "scale": {"type":"log","domain":[1e-13,7.11e-9],"nice":false}, "axis": null}, "y2": {"field": "Fend"}}},
                {"data": {"name": "flareUL"}, "mark": {"type": "point", "shape": "M-1,-1L0,0L1,-1", "size": 25, "filled": false, "stroke": "#111", "strokeWidth": 1.1},
                 "encoding": {"x": {"field": "E", "type": "quantitative", "scale": {"type":"log","domain":[28.7,1535000],"nice":false}, "axis": null},
                              "y": {"field": "Fend", "type": "quantitative", "scale": {"type":"log","domain":[1e-13,7.11e-9],"nice":false}, "axis": null}}},

                {"data": {"values": []}, "mark": {"type": "point", "filled": true},
                 "encoding": {
                   "color": {"field": "neb", "type": "nominal",
                             "scale": {"domain": ["Fermi 33 months", "Fermi 2011 flare", "H.E.S.S.", "MAGIC"], "range": ["#111", "#111", "#bdbdbd", "#c4c4c4"]},
                             "legend": {"title": "Nebula:", "orient": "none", "legendX": 34, "legendY": 309, "padding": 0, "offset": 0,
                                        "titleFont": "Liberation Sans", "titleFontSize": 17, "titleFontWeight": "normal", "titleColor": "#111", "titlePadding": 11,
                                        "labelFont": "Liberation Sans", "labelFontSize": 17, "labelColor": "#111", "labelOffset": 2, "labelLimit": 300,
                                        "symbolSize": 289, "symbolStrokeWidth": 0, "rowPadding": 12.4}},
                   "shape": {"field": "neb", "type": "nominal",
                             "scale": {"domain": ["Fermi 33 months", "Fermi 2011 flare", "H.E.S.S.", "MAGIC"],
                                       "range": ["M-1,-0.08H1V0.08H-1Z M-0.4,-0.4H0.4V0.4H-0.4Z", "M-1,-0.08H1V0.08H-1Z M0,-0.42L0.42,0.32H-0.42Z", "M-0.17,-0.17H0.17V0.17H-0.17Z", "M-0.38,-0.09H0.38V0.09H-0.38Z M-0.09,-0.38H0.09V0.38H-0.09Z M-0.33,-0.2L-0.2,-0.33L0.33,0.2L0.2,0.33Z M-0.33,0.2L-0.2,0.33L0.33,-0.2L0.2,-0.33Z"]},
                             "legend": {"title": "Nebula:", "orient": "none", "legendX": 34, "legendY": 309, "padding": 0, "offset": 0,
                                        "titleFont": "Liberation Sans", "titleFontSize": 17, "titleFontWeight": "normal", "titleColor": "#111", "titlePadding": 11,
                                        "labelFont": "Liberation Sans", "labelFontSize": 17, "labelColor": "#111", "labelOffset": 2, "labelLimit": 300,
                                        "symbolSize": 289, "symbolStrokeWidth": 0, "rowPadding": 12.4}}
                 }},
                {"data": {"values": []}, "mark": {"type": "point", "filled": false},
                 "encoding": {
                   "color": {"field": "pul", "type": "nominal",
                             "scale": {"domain": ["Fermi 33 months", "Fermi 8 months", "VERITAS", "MAGIC"], "range": ["#ee1111", "#ee1111", "#bdbdbd", "#bdbdbd"]},
                             "legend": {"title": "Pulsar:", "orient": "none", "legendX": 204, "legendY": 309, "padding": 0, "offset": 0,
                                        "titleFont": "Liberation Sans", "titleFontSize": 17, "titleFontWeight": "normal", "titleColor": "#111", "titlePadding": 11,
                                        "labelFont": "Liberation Sans", "labelFontSize": 17, "labelColor": "#111", "labelOffset": 2, "labelLimit": 300,
                                        "symbolSize": 289, "symbolStrokeWidth": 1.2, "rowPadding": 12.4}},
                   "shape": {"field": "pul", "type": "nominal",
                             "scale": {"domain": ["Fermi 33 months", "Fermi 8 months", "VERITAS", "MAGIC"],
                                       "range": ["M-1,0H-0.38M0.38,0H1M0.38,0A0.38,0.38 0 1,1 -0.38,0A0.38,0.38 0 1,1 0.38,0", "M-1,0H-0.88M-0.7,0H-0.58M-0.4,0H-0.28M-0.1,0H0.02M0.2,0H0.32M0.5,0H0.62M0.8,0H0.92", "M-1,0H1", "M0,-0.35L0.38,0.3H-0.38Z"]},
                             "legend": {"title": "Pulsar:", "orient": "none", "legendX": 204, "legendY": 309, "padding": 0, "offset": 0,
                                        "titleFont": "Liberation Sans", "titleFontSize": 17, "titleFontWeight": "normal", "titleColor": "#111", "titlePadding": 11,
                                        "labelFont": "Liberation Sans", "labelFontSize": 17, "labelColor": "#111", "labelOffset": 2, "labelLimit": 300,
                                        "symbolSize": 289, "symbolStrokeWidth": 1.2, "rowPadding": 12.4}}
                 }}
              ]
            }
          ]
        },
        {"width": 1, "height": 563, "view": {"stroke": "#168a16", "strokeWidth": 2.5, "fill": "#168a16"}, "data": {"values": []}, "mark": "point", "encoding": {}}
      ]
    },
    {
      "width": 805, "height": 145,
      "view": {"stroke": "#2d6e37", "strokeWidth": 2.5, "cornerRadius": 28, "fill": "white"},
      "layer": [
        {"data": {"values": [
           {"line": 1, "t": "Spectral energy distributions of the Crab pulsar (red) and \u00a0PWN (black) as"},
           {"line": 2, "t": "seen by the LAT \u00a0and other gamma-ray telescopes. The red curve shows the"},
           {"line": 3, "t": "spectral fit of the pulsar using LAT data. The nebula spectrum during the"},
           {"line": 4, "t": "brightest flare in April 2011 (MJD 55666.997-55667.366) is also shown."}]},
         "mark": {"type": "text", "align": "left", "baseline": "middle", "font": "Liberation Serif", "fontWeight": "bold", "fontSize": 23, "color": "#111"},
         "encoding": {"x": {"datum": 0, "type": "quantitative", "scale": {"domain": [0, 1], "range": [27, 805]}, "axis": null},
                      "y": {"field": "line", "type": "ordinal", "scale": {"type": "point", "domain": [1, 2, 3, 4], "range": [44, 125], "padding": 0}, "axis": null},
                      "text": {"field": "t"}}},
        {"data": {"values": [{"line": 1, "t": "Spectral energy distributions of the Crab pulsar (red"}]},
         "mark": {"type": "text", "align": "left", "baseline": "middle", "font": "Liberation Serif", "fontWeight": "bold", "fontSize": 23, "color": "#a31515"},
         "encoding": {"x": {"datum": 0, "type": "quantitative", "scale": {"domain": [0, 1], "range": [27, 805]}, "axis": null},
                      "y": {"field": "line", "type": "ordinal", "scale": {"type": "point", "domain": [1, 2, 3, 4], "range": [44, 125], "padding": 0}, "axis": null},
                      "text": {"field": "t"}}},
        {"data": {"values": [{"line": 1, "t": "Spectral energy distributions of the Crab pulsar ("}]},
         "mark": {"type": "text", "align": "left", "baseline": "middle", "font": "Liberation Serif", "fontWeight": "bold", "fontSize": 23, "color": "#111"},
         "encoding": {"x": {"datum": 0, "type": "quantitative", "scale": {"domain": [0, 1], "range": [27, 805]}, "axis": null},
                      "y": {"field": "line", "type": "ordinal", "scale": {"type": "point", "domain": [1, 2, 3, 4], "range": [44, 125], "padding": 0}, "axis": null},
                      "text": {"field": "t"}}}
      ]
    }
  ]
}
